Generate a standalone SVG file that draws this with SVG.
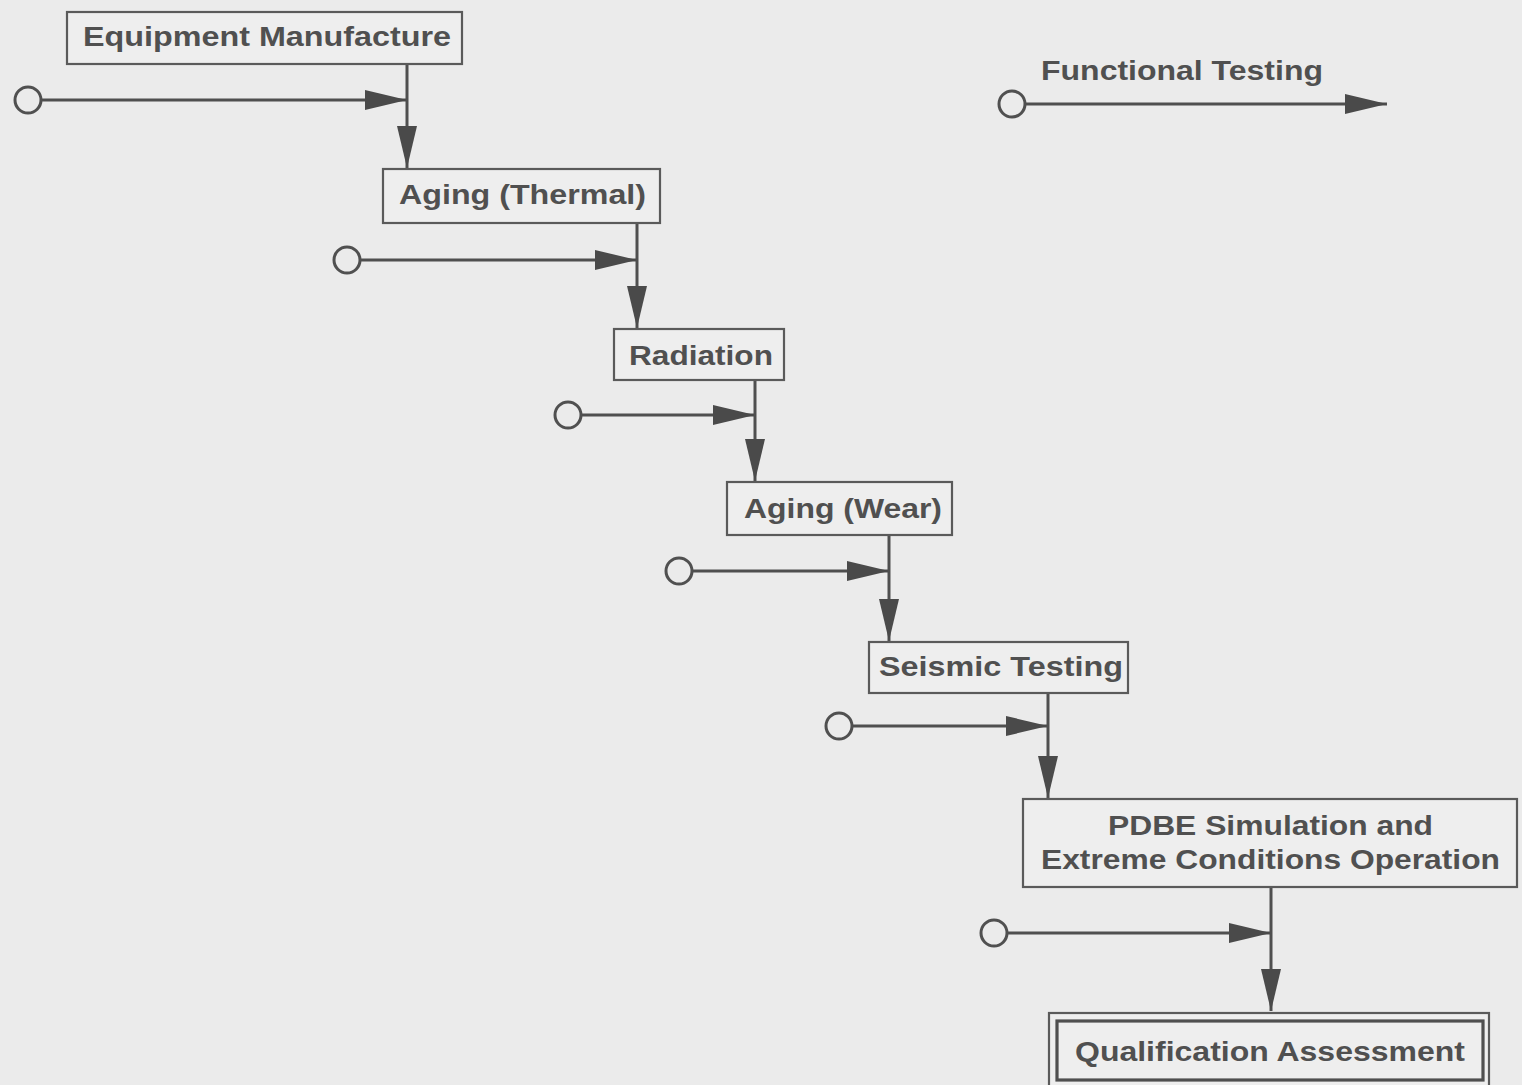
<svg xmlns="http://www.w3.org/2000/svg" width="1522" height="1085" viewBox="0 0 1522 1085">
<defs>
<marker id="ah" markerUnits="userSpaceOnUse" markerWidth="42" markerHeight="22" refX="42" refY="11" orient="auto" viewBox="0 0 42 22">
<path d="M0,1 L42,11 L0,21 Z" fill="#4a4a4a"/>
</marker>
<style>
.bx{fill:#eeeeee;stroke:#5a5a5a;stroke-width:2.2}
.t{font-family:"Liberation Sans",Arial,sans-serif;font-weight:bold;font-size:27px;fill:#505050}
.ln{stroke:#4f4f4f;stroke-width:3;fill:none}
.c{fill:none;stroke:#505050;stroke-width:3}
</style>
</defs>
<rect x="0" y="0" width="1522" height="1085" fill="#ebebeb"/>
<g id="connectors">
<line class="ln" x1="42" y1="100" x2="407" y2="100" marker-end="url(#ah)"/>
<line class="ln" x1="407" y1="64" x2="407" y2="168" marker-end="url(#ah)"/>
<line class="ln" x1="360" y1="260" x2="637" y2="260" marker-end="url(#ah)"/>
<line class="ln" x1="637" y1="223" x2="637" y2="328" marker-end="url(#ah)"/>
<line class="ln" x1="581" y1="415" x2="755" y2="415" marker-end="url(#ah)"/>
<line class="ln" x1="755" y1="380" x2="755" y2="481" marker-end="url(#ah)"/>
<line class="ln" x1="692" y1="571" x2="889" y2="571" marker-end="url(#ah)"/>
<line class="ln" x1="889" y1="535" x2="889" y2="641" marker-end="url(#ah)"/>
<line class="ln" x1="852" y1="726" x2="1048" y2="726" marker-end="url(#ah)"/>
<line class="ln" x1="1048" y1="693" x2="1048" y2="798" marker-end="url(#ah)"/>
<line class="ln" x1="1007" y1="933" x2="1271" y2="933" marker-end="url(#ah)"/>
<line class="ln" x1="1271" y1="887" x2="1271" y2="1011" marker-end="url(#ah)"/>
<line class="ln" x1="1025" y1="104" x2="1387" y2="104" marker-end="url(#ah)"/>
<circle class="c" cx="28" cy="100" r="13"/>
<circle class="c" cx="347" cy="260" r="13"/>
<circle class="c" cx="568" cy="415" r="13"/>
<circle class="c" cx="679" cy="571" r="13"/>
<circle class="c" cx="839" cy="726" r="13"/>
<circle class="c" cx="994" cy="933" r="13"/>
<circle class="c" cx="1012" cy="104" r="13"/>
</g>
<g id="equipment-manufacture">
<rect class="bx" x="67" y="12" width="395" height="52"/>
<text class="t" x="83" y="46" textLength="368" lengthAdjust="spacingAndGlyphs">Equipment Manufacture</text>
</g>
<g id="aging-thermal">
<rect class="bx" x="383" y="169" width="277" height="54"/>
<text class="t" x="399" y="204" textLength="247" lengthAdjust="spacingAndGlyphs">Aging (Thermal)</text>
</g>
<g id="radiation">
<rect class="bx" x="614" y="329" width="170" height="51"/>
<text class="t" x="629" y="365" textLength="144" lengthAdjust="spacingAndGlyphs">Radiation</text>
</g>
<g id="aging-wear">
<rect class="bx" x="727" y="482" width="225" height="53"/>
<text class="t" x="744" y="518" textLength="198" lengthAdjust="spacingAndGlyphs">Aging (Wear)</text>
</g>
<g id="seismic-testing">
<rect class="bx" x="869" y="642" width="259" height="51"/>
<text class="t" x="879" y="676" textLength="244" lengthAdjust="spacingAndGlyphs">Seismic Testing</text>
</g>
<g id="pdbe">
<rect class="bx" x="1023" y="799" width="494" height="88"/>
<text class="t" x="1108" y="835" textLength="325" lengthAdjust="spacingAndGlyphs">PDBE Simulation and</text>
<text class="t" x="1041" y="869" textLength="459" lengthAdjust="spacingAndGlyphs">Extreme Conditions Operation</text>
</g>
<g id="qualification-assessment">
<rect class="bx" x="1049" y="1013" width="440" height="80"/>
<rect x="1057" y="1021" width="426" height="59" fill="none" stroke="#4f4f4f" stroke-width="3.2"/>
<text class="t" x="1075" y="1061" textLength="390" lengthAdjust="spacingAndGlyphs">Qualification Assessment</text>
</g>
<g id="functional-testing">
<text class="t" x="1041" y="80" textLength="282" lengthAdjust="spacingAndGlyphs">Functional Testing</text>
</g>
</svg>
